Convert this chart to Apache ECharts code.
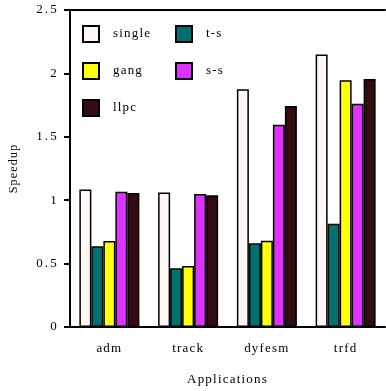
<!DOCTYPE html>
<html><head><meta charset="utf-8">
<script src="https://cdn.jsdelivr.net/npm/echarts@6/dist/echarts.min.js"></script>
<style>html,body{margin:0;padding:0;background:#fff}#c{width:386px;height:391px}</style>
</head><body><div id="c"></div>
<script>
const categories = ['adm', 'track', 'dyfesm', 'trfd'];
const single = [1.085, 1.06, 1.875, 2.15];
const ts = [0.636, 0.463, 0.66, 0.815];
const gang = [0.678, 0.481, 0.681, 1.946];
const ss = [1.067, 1.049, 1.596, 1.761];
const llpc = [1.057, 1.039, 1.743, 1.956];
const yTicks = [0, 0.5, 1, 1.5, 2, 2.5];

// widen glyph spacing of drawn text to match the reference's typesetting
(function () {
  const P = CanvasRenderingContext2D.prototype;
  const orig = P.fillText;
  P.fillText = function (t) {
    if ('letterSpacing' in this) this.letterSpacing = /^[\d.]+$/.test(String(t)) ? '2.2px' : '1.2px';
    return orig.apply(this, arguments);
  };
})();

const font = 'Liberation Serif';
const seriesDefs = [
  ['single', single, '#fff6f6'],
  ['t-s', ts, '#007070'],
  ['gang', gang, '#ffff10'],
  ['s-s', ss, '#dd33ff'],
  ['llpc', llpc, '#330c12']
];
const chart = echarts.init(document.getElementById('c'));
const legendStyle = {
  orient: 'vertical', itemWidth: 16, itemHeight: 16, itemGap: 19,
  textStyle: {fontFamily: font, fontSize: 13, color: '#000', padding: [0,0,0,9], height: 16, lineHeight: 16},
  icon: 'rect', padding: 0
};
chart.setOption({
  animation: false,
  grid: {left: 69, top: 10, right: 1, bottom: 64},
  legend: [
    Object.assign({left: 82, top: 25, data: ['single', 'gang', 'llpc']}, legendStyle),
    Object.assign({left: 175, top: 25, data: ['t-s', 's-s']}, legendStyle)
  ],
  xAxis: [{
    type: 'category', data: categories,
    name: 'Applications', nameLocation: 'middle', nameGap: 46,
    nameTextStyle: {fontFamily: font, fontSize: 13, color: '#000'},
    axisLine: {lineStyle: {color: '#000', width: 2}},
    axisTick: {alignWithLabel: true, length: 7, lineStyle: {width: 2, color: '#000'}, interval: 0},
    axisLabel: {fontFamily: font, fontSize: 13, color: '#000', margin: 15}
  }, {
    type: 'category', data: categories, position: 'top',
    axisLine: {lineStyle: {color: '#000', width: 2}},
    axisTick: {show: false}, axisLabel: {show: false}
  }],
  yAxis: {
    type: 'value', min: 0, max: 2.5, interval: 0.5,
    name: 'Speedup', nameLocation: 'middle', nameGap: 50, nameRotate: 90,
    nameTextStyle: {fontFamily: font, fontSize: 12, color: '#000'},
    axisLine: {show: true, lineStyle: {color: '#000', width: 2}},
    axisTick: {show: true, length: 6, lineStyle: {width: 2, color: '#000'}},
    splitLine: {show: false},
    axisLabel: {fontFamily: font, fontSize: 13, color: '#000', margin: 11,
      formatter: v => yTicks.includes(v) ? String(v) : ''}
  },
  series: seriesDefs.map(([name, data, color]) => ({
    name, type: 'bar', data, barWidth: 12, barGap: '0%',
    itemStyle: {color, borderColor: '#000', borderWidth: 1.5}
  }))
});
</script></body></html>
